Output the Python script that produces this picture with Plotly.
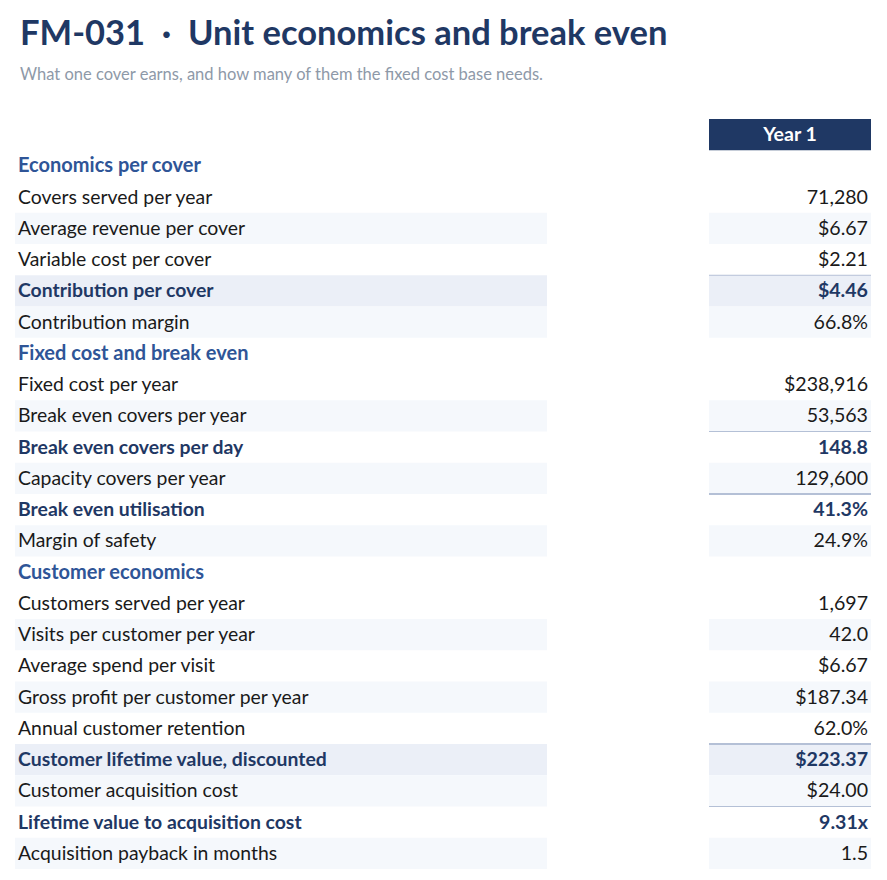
import plotly.graph_objects as go

# ---- data ----
title = "FM-031  \u00b7  Unit economics and break even"
subtitle = "What one cover earns, and how many of them the fixed cost base needs."
column_header = "Year 1"

row_labels = [
    "Economics per cover",
    "Covers served per year",
    "Average revenue per cover",
    "Variable cost per cover",
    "Contribution per cover",
    "Contribution margin",
    "Fixed cost and break even",
    "Fixed cost per year",
    "Break even covers per year",
    "Break even covers per day",
    "Capacity covers per year",
    "Break even utilisation",
    "Margin of safety",
    "Customer economics",
    "Customers served per year",
    "Visits per customer per year",
    "Average spend per visit",
    "Gross profit per customer per year",
    "Annual customer retention",
    "Customer lifetime value, discounted",
    "Customer acquisition cost",
    "Lifetime value to acquisition cost",
    "Acquisition payback in months",
]
row_values = [
    "", "71,280", "$6.67", "$2.21", "$4.46", "66.8%",
    "", "$238,916", "53,563", "148.8", "129,600", "41.3%", "24.9%",
    "", "1,697", "42.0", "$6.67", "$187.34", "62.0%", "$223.37", "$24.00", "9.31x", "1.5",
]
# row kinds: section / item / total (shaded, bold) / key (bold, no shade)
row_kinds = [
    "section", "item", "item", "item", "total", "item",
    "section", "item", "item", "key", "item", "key", "item",
    "section", "item", "item", "item", "item", "item", "total", "item", "key", "item",
]
# rule drawn above the value cell: 0 none, 1 thin, 2 thick
rule_above = [
    0, 0, 0, 0, 1, 0,
    0, 0, 0, 1, 0, 2, 0,
    0, 0, 0, 0, 0, 0, 2, 0, 1, 0,
]

# ---- style ----
NAVY = "#1f3864"
SECTION = "#2f5597"
TEXT = "#1a1a1a"
STRIPE = "#f5f8fc"
TOTAL = "#ebeff7"
RULE = "#b4c0d6"
FONT = "Lato"

W, H = 871, 864
TOP, BOTTOM = 111, 3
LABEL_X0, LABEL_X1 = 7, 539
VALUE_X0, VALUE_X1 = 701, 863
TEXT_NUDGE = 0.05   # rows; text sits a touch low in the reference

fig = go.Figure()

shapes = []
# header box (row 0 on the y axis)
shapes.append(dict(type="rect", xref="x", yref="y", x0=VALUE_X0, x1=VALUE_X1,
                   y0=-0.5, y1=0.5, fillcolor=NAVY, line_width=0, layer="below"))

# zebra stripes restart in every section; total rows have their own shade
# and do not count towards the stripe
stripe = 0
for i, kind in enumerate(row_kinds):
    y = i + 1
    if kind == "section":
        stripe = 0
        continue
    fill = None
    if kind == "total":
        fill = TOTAL
    else:
        if stripe % 2 == 1:
            fill = STRIPE
        stripe += 1
    if fill:
        for x0, x1 in [(LABEL_X0, LABEL_X1), (VALUE_X0, VALUE_X1)]:
            shapes.append(dict(type="rect", xref="x", yref="y", x0=x0, x1=x1,
                               y0=y - 0.5, y1=y + 0.5, fillcolor=fill,
                               line_width=0, layer="below"))
    if rule_above[i]:
        shapes.append(dict(type="line", xref="x", yref="y", x0=VALUE_X0, x1=VALUE_X1,
                           y0=y - 0.5, y1=y - 0.5,
                           line=dict(color=RULE, width=1 if rule_above[i] == 1 else 2)))

ys = [i + 1 + TEXT_NUDGE for i in range(len(row_labels))]

def bold_if(txt, kind):
    return "<b>%s</b>" % txt if kind != "item" else txt

label_colors = [SECTION if k == "section" else NAVY if k in ("total", "key") else TEXT
                for k in row_kinds]
label_sizes = [20 if k == "section" else 19.4 for k in row_kinds]

fig.add_trace(go.Scatter(
    x=[LABEL_X0 + 3] * len(row_labels), y=ys, mode="text",
    text=[bold_if(l, k) for l, k in zip(row_labels, row_kinds)],
    textposition="middle right",
    textfont=dict(family=FONT, size=label_sizes, color=label_colors),
    hoverinfo="skip", showlegend=False))

fig.add_trace(go.Scatter(
    x=[VALUE_X1 - 3] * len(row_values), y=ys, mode="text",
    text=[bold_if(v, k) for v, k in zip(row_values, row_kinds)],
    textposition="middle left",
    textfont=dict(family=FONT, size=19.6,
                  color=[NAVY if k in ("total", "key") else TEXT for k in row_kinds]),
    hoverinfo="skip", showlegend=False))

fig.add_trace(go.Scatter(
    x=[(VALUE_X0 + VALUE_X1) / 2], y=[TEXT_NUDGE], mode="text",
    text=["<b>%s</b>" % column_header], textposition="middle center",
    textfont=dict(family=FONT, size=19.5, color="white"),
    hoverinfo="skip", showlegend=False))

fig.update_layout(
    width=W, height=H,
    margin=dict(l=0, r=0, t=TOP, b=BOTTOM),
    paper_bgcolor="white", plot_bgcolor="white",
    shapes=shapes,
    xaxis=dict(range=[0, W], visible=False, fixedrange=True),
    yaxis=dict(range=[len(row_labels) + 0.5, -0.5], visible=False, fixedrange=True),
    font=dict(family=FONT),
)

# title and subtitle sit in the top margin; position in pixels from the top
plot_h = H - TOP - BOTTOM
def paper_y(px):
    return (H - BOTTOM - px) / plot_h

fig.add_annotation(text="<b>%s</b>" % title, xref="paper", yref="paper",
                   x=10 / W, y=paper_y(23.5), xanchor="left", yanchor="middle",
                   showarrow=False, font=dict(family=FONT, size=34.5, color=NAVY))
fig.add_annotation(text=subtitle, xref="paper", yref="paper",
                   x=10 / W, y=paper_y(66), xanchor="left", yanchor="middle",
                   showarrow=False, font=dict(family=FONT, size=16.5, color="#8e99a8"))

fig.write_html("out.html")
